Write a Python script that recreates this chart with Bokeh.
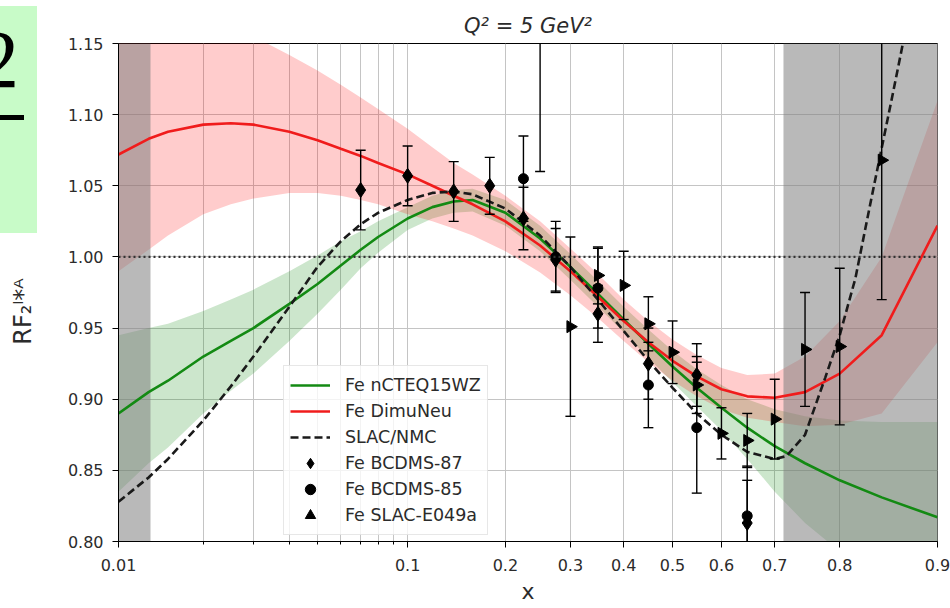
import numpy as np
from bokeh.plotting import figure
from bokeh.layouts import column
from bokeh.models import (Range1d, FixedTicker, CustomJSTickFormatter, Span, Div,
                          Legend, LegendItem)
from bokeh.embed import file_html
from bokeh.resources import INLINE

# ---------------- data ----------------
curve_x = [0.01, 0.0128, 0.015, 0.02, 0.025, 0.03, 0.04, 0.05, 0.06, 0.07, 0.08, 0.1, 0.12, 0.14,
           0.16, 0.2, 0.25, 0.3, 0.35, 0.4, 0.45, 0.5, 0.55, 0.6, 0.65, 0.7, 0.75, 0.8, 0.85, 0.9]

green_y = [0.890, 0.905, 0.913, 0.930, 0.941, 0.950, 0.967, 0.981, 0.994, 1.005, 1.014, 1.027, 1.035, 1.039,
           1.040, 1.031, 1.013, 0.993, 0.974, 0.956, 0.939, 0.923, 0.908, 0.894, 0.880, 0.867, 0.855, 0.843, 0.831, 0.817]
green_lo = [0.835, 0.855, 0.866, 0.890, 0.906, 0.918, 0.941, 0.960, 0.977, 0.992, 1.003, 1.019, 1.027, 1.031,
            1.032, 1.022, 1.004, 0.984, 0.965, 0.947, 0.929, 0.912, 0.895, 0.878, 0.858, 0.835, 0.813, 0.793, 0.775, 0.758]
green_hi = [0.945, 0.950, 0.953, 0.962, 0.970, 0.977, 0.990, 1.001, 1.011, 1.018, 1.025, 1.035, 1.043, 1.047,
            1.048, 1.040, 1.022, 1.002, 0.983, 0.965, 0.949, 0.934, 0.921, 0.910, 0.900, 0.893, 0.888, 0.885, 0.884, 0.884]

red_y = [1.072, 1.083, 1.088, 1.093, 1.094, 1.093, 1.088, 1.082, 1.076, 1.071, 1.066, 1.058, 1.050, 1.043,
         1.037, 1.025, 1.008, 0.990, 0.972, 0.955, 0.940, 0.927, 0.916, 0.907, 0.902, 0.901, 0.905, 0.918, 0.945, 1.022]
red_lo = [0.990, 1.005, 1.015, 1.030, 1.037, 1.041, 1.045, 1.045, 1.043, 1.040, 1.037, 1.030, 1.025, 1.020,
          1.015, 1.004, 0.989, 0.973, 0.957, 0.941, 0.926, 0.913, 0.902, 0.893, 0.887, 0.884, 0.881, 0.882, 0.890, 0.940]
red_hi = [1.200, 1.190, 1.183, 1.170, 1.162, 1.155, 1.142, 1.131, 1.121, 1.112, 1.104, 1.090, 1.077, 1.066,
          1.058, 1.043, 1.025, 1.006, 0.988, 0.970, 0.955, 0.942, 0.931, 0.922, 0.917, 0.918, 0.930, 0.955, 1.000, 1.110]

slac_nmc_x = [0.01, 0.0128, 0.015, 0.02, 0.025, 0.03, 0.04, 0.05, 0.06, 0.07, 0.08, 0.1, 0.12, 0.14, 0.16,
              0.2, 0.25, 0.3, 0.35, 0.4, 0.45, 0.5, 0.55, 0.6, 0.65, 0.7, 0.72, 0.75, 0.78, 0.8, 0.82,
              0.84, 0.86, 0.875]
slac_nmc_y = [0.828, 0.845, 0.858, 0.885, 0.909, 0.930, 0.965, 0.993, 1.011, 1.023, 1.031, 1.040, 1.045, 1.046,
              1.044, 1.034, 1.015, 0.993, 0.970, 0.948, 0.927, 0.908, 0.890, 0.875, 0.863, 0.858, 0.860,
              0.875, 0.915, 0.945, 0.985, 1.045, 1.110, 1.165]

bcdms87_x = [0.07, 0.1, 0.14, 0.18, 0.225, 0.275, 0.35, 0.45, 0.55, 0.65]
bcdms87_y = [1.047, 1.057, 1.046, 1.050, 1.027, 0.998, 0.960, 0.925, 0.917, 0.813]
bcdms87_err = [0.028, 0.021, 0.021, 0.020, 0.022, 0.022, 0.020, 0.025, 0.022, 0.030]

bcdms85_x = [0.225, 0.275, 0.35, 0.45, 0.55, 0.65]
bcdms85_y = [1.055, 1.000, 0.978, 0.910, 0.880, 0.818]
bcdms85_err = [0.030, 0.025, 0.028, 0.030, 0.046, 0.035]

slac_x = [0.25, 0.3, 0.35, 0.4, 0.45, 0.5, 0.55, 0.6, 0.65, 0.7, 0.75, 0.8, 0.85]
slac_y = [1.210, 0.951, 0.987, 0.980, 0.953, 0.933, 0.910, 0.876, 0.871, 0.886, 0.935, 0.937, 1.068]
slac_err = [0.150, 0.063, 0.020, 0.024, 0.019, 0.022, 0.020, 0.018, 0.019, 0.028, 0.040, 0.055, 0.098]

shade_lo = [0.01, 0.715]
shade_hi = [0.013, 0.9]

x_major = [0.01, 0.1, 0.2, 0.3, 0.4, 0.5, 0.6, 0.7, 0.8, 0.9]
x_minor = [0.02, 0.03, 0.04, 0.05, 0.06, 0.07, 0.08, 0.09]
y_ticks = [0.80, 0.85, 0.90, 0.95, 1.00, 1.05, 1.10, 1.15]
Y_MIN, Y_MAX = 0.80, 1.15
X_MIN, X_MAX = 0.01, 0.9


def logit(v):
    v = np.asarray(v, dtype=float)
    return np.log(v / (1.0 - v))


FONT = "DejaVu Sans"
TXT = "#2b2b2b"
NBSP = "\u00a0"

p = figure(width=950, height=608, output_backend="svg", toolbar_location=None,
           x_range=Range1d(float(logit(X_MIN)) - 1e-9, float(logit(X_MAX)) + 1e-9),
           y_range=Range1d(Y_MIN, Y_MAX),
           min_border_left=118, min_border_right=13, min_border_top=43, min_border_bottom=67)
p.background_fill_color = "white"
p.border_fill_color = "white"
p.outline_line_color = "black"
p.outline_line_width = 1

p.title.text = "Q² = 5 GeV²"
p.title.align = "center"
p.title.text_font = FONT
p.title.text_font_size = "21px"
p.title.text_font_style = "italic"
p.title.text_color = TXT
p.title.standoff = 12

# axes
p.xaxis.ticker = FixedTicker(ticks=[float(v) for v in logit(x_major)],
                             minor_ticks=[float(v) for v in logit(x_minor)])
p.xaxis.formatter = CustomJSTickFormatter(code="""
    const v = 1/(1+Math.exp(-tick));
    return String(Math.round(v*100)/100);
""")
p.yaxis.ticker = FixedTicker(ticks=y_ticks)
p.yaxis.formatter = CustomJSTickFormatter(code="return tick.toFixed(2);")
for ax in (p.xaxis, p.yaxis):
    ax.axis_line_color = "black"
    ax.major_tick_line_color = "black"
    ax.minor_tick_line_color = "black"
    ax.major_tick_out = 6
    ax.major_tick_in = 0
    ax.minor_tick_out = 3
    ax.minor_tick_in = 0
    ax.major_label_text_font = FONT
    ax.major_label_text_font_size = "16px"
    ax.major_label_text_color = TXT
    ax.axis_label_text_font = FONT
    ax.axis_label_text_font_style = "normal"
    ax.axis_label_text_color = TXT
p.yaxis.minor_tick_line_color = None
p.xaxis.major_label_standoff = 11
p.yaxis.major_label_standoff = 9

p.xaxis.axis_label = "x"
p.xaxis.axis_label_text_font_size = "22px"
p.xaxis.axis_label_standoff = 5
p.yaxis.axis_label = "RF₂ˡ*ᴬ" + NBSP * 5
p.yaxis.axis_label_text_font_size = "24px"
p.yaxis.axis_label_standoff = 28

p.xgrid.grid_line_color = "#c4c4c4"
p.xgrid.minor_grid_line_color = "#c4c4c4"
p.ygrid.grid_line_color = "#c4c4c4"

# bands
p.varea(x=logit(curve_x), y1=green_lo, y2=green_hi, fill_color="green", fill_alpha=0.2)
p.varea(x=logit(curve_x), y1=red_lo, y2=red_hi, fill_color="red", fill_alpha=0.2)

# shaded excluded regions
p.quad(left=logit(shade_lo), right=logit(shade_hi), bottom=Y_MIN, top=Y_MAX,
       fill_color="gray", fill_alpha=0.55, line_color=None)

# curves
g_line = p.line(logit(curve_x), green_y, line_color="#138a13", line_width=2.6)
r_line = p.line(logit(curve_x), red_y, line_color="#f01c1c", line_width=2.6)
k_line = p.line(logit(slac_nmc_x), slac_nmc_y, line_color="#1a1a1a", line_width=2.6, line_dash="8 4")


def errbars(xs, ys, es):
    xt = logit(xs)
    ys = np.asarray(ys)
    es = np.asarray(es)
    p.segment(x0=xt, y0=ys - es, x1=xt, y1=ys + es, line_color="black", line_width=1.4)
    p.scatter(x=np.concatenate([xt, xt]), y=np.concatenate([ys - es, ys + es]), marker="dash",
              size=10, line_color="black", line_width=1.4)


errbars(bcdms87_x, bcdms87_y, bcdms87_err)
errbars(bcdms85_x, bcdms85_y, bcdms85_err)
errbars(slac_x, slac_y, slac_err)

m87 = p.scatter(logit(bcdms87_x), bcdms87_y, marker="diamond", size=15, color="black")
m85 = p.scatter(logit(bcdms85_x), bcdms85_y, marker="circle", size=10, color="black")
mslac = p.scatter(logit(slac_x), slac_y, marker="triangle", angle=-np.pi / 2, size=12, color="black")

p.add_layout(Span(location=1.0, dimension="width", line_color="#333333", line_width=2.2,
                  line_dash="2 3"))

legend = Legend(items=[
    LegendItem(label="Fe nCTEQ15WZ", renderers=[g_line]),
    LegendItem(label="Fe DimuNeu", renderers=[r_line]),
    LegendItem(label="SLAC/NMC", renderers=[k_line]),
    LegendItem(label="Fe BCDMS-87", renderers=[m87]),
    LegendItem(label="Fe BCDMS-85", renderers=[m85]),
    LegendItem(label="Fe SLAC-E049a", renderers=[mslac]),
], location=(165, 6), margin=0, padding=6, spacing=0, glyph_width=40, glyph_height=26,
    label_height=26, label_standoff=15, label_text_font=FONT, label_text_font_size="17.5px",
    label_text_color=TXT, border_line_color="#d0d0d0", border_line_width=1,
    background_fill_color="white", background_fill_alpha=0.8)
p.add_layout(legend)

# fragment of a neighbouring slide box at the top left
box_html = (
    '<div style="position:relative;width:37px;height:227px;overflow:hidden;background:#c8fbc8;">'
    '<span style="position:absolute;right:18px;top:13px;font-family:\'Liberation Serif\';'
    'font-size:82px;line-height:1;color:#000;">2</span>'
    '<div style="position:absolute;left:0;top:109px;width:24px;height:5px;background:#000;"></div>'
    '</div>')
box = Div(text=box_html, width=37, height=227, margin=0,
          styles={"position": "absolute", "left": "0px", "top": "6px", "z-index": "10",
                  "margin": "0px", "padding": "0px"})

root = column(p, box)
open("out.html", "w").write(file_html(root, INLINE))
